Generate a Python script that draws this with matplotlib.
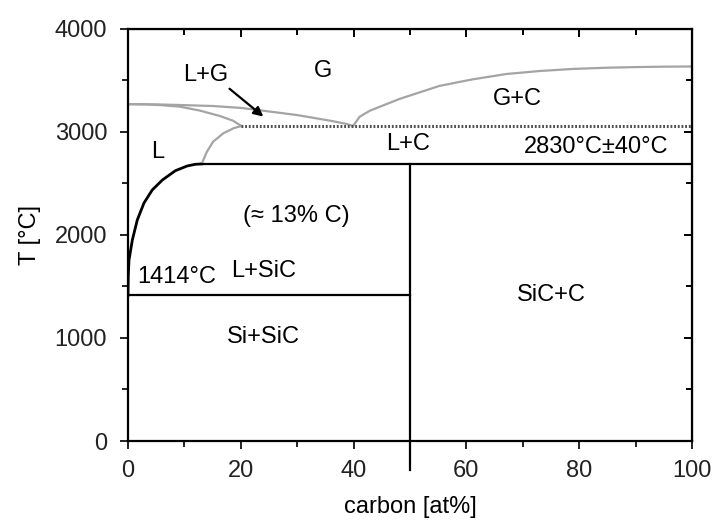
import matplotlib
matplotlib.use("Agg")
import matplotlib.pyplot as plt
from matplotlib.ticker import MultipleLocator

plt.rcParams['font.family'] = ['Liberation Sans', 'DejaVu Sans']

# Si-C phase diagram
# liquidus of Si-rich melt (L / L+SiC), black
liq_x = [0, 0.05, 0.18, 0.77, 1.65, 2.84, 4.3, 6.1, 8.4, 10.5, 11.9, 13.0]
liq_y = [1414, 1600, 1757, 1951, 2146, 2311, 2437, 2534, 2624, 2670, 2686, 2690]

# gray boundaries
lg_upper_x = [0, 5, 9.2, 15.1, 20.0, 23.9, 29.9, 35.8, 38.8, 39.9]
lg_upper_y = [3270, 3268, 3262, 3252, 3234, 3207, 3165, 3110, 3078, 3058]
lg_lower_x = [0, 3, 6, 9.2, 12.8, 16.3, 18.6, 20.1]
lg_lower_y = [3270, 3268, 3260, 3246, 3207, 3155, 3110, 3058]
lc_x = [13.1, 13.3, 14.0, 15.1, 16.9, 18.7, 20.1]
lc_y = [2690, 2720, 2809, 2906, 2987, 3036, 3058]
gc_x = [39.9, 41.1, 42.9, 44.7, 48.1, 55.2, 61, 67.1, 73, 78.9, 85, 90, 95, 100]
gc_y = [3058, 3149, 3207, 3246, 3320, 3447, 3510, 3563, 3592, 3612, 3624, 3630, 3634, 3636]

# horizontal lines
solidus_t = 1414
peritectic_t = 2690
eutectic_t = 3058
sic_x = 50

xticks = [0, 20, 40, 60, 80, 100]
yticks = [0, 1000, 2000, 3000, 4000]

fig = plt.figure(figsize=(7.13, 5.25), dpi=100)
ax = fig.add_axes([0.1795, 0.16, 0.791, 0.7848])

gray = '#a4a4a4'
ax.plot(liq_x, liq_y, color='black', lw=2.0)
ax.plot(lg_upper_x, lg_upper_y, color=gray, lw=1.6)
ax.plot(lg_lower_x, lg_lower_y, color=gray, lw=1.6)
ax.plot(lc_x, lc_y, color=gray, lw=1.6)
ax.plot(gc_x, gc_y, color=gray, lw=1.6)

ax.plot([0, sic_x], [solidus_t, solidus_t], color='black', lw=1.6)
ax.plot([liq_x[-1], 100], [peritectic_t, peritectic_t], color='black', lw=1.6)
ax.plot([20.1, 100], [eutectic_t, eutectic_t], color='#505050', lw=2.2,
        linestyle=(0, (0.6, 0.6)))
ax.plot([sic_x, sic_x], [-280, peritectic_t], color='black', lw=1.6, clip_on=False)

fs = 17
ax.text(34.5, 3590, 'G', fontsize=fs, ha='center', va='center')
ax.text(13.8, 3555, 'L+G', fontsize=fs, ha='center', va='center')
ax.annotate('', xy=(24.0, 3150), xytext=(18.0, 3420),
            arrowprops=dict(arrowstyle='-|>', color='black', lw=1.6,
                            mutation_scale=14, shrinkA=0, shrinkB=0))
ax.text(69, 3320, 'G+C', fontsize=fs, ha='center', va='center')
ax.text(49.6, 2880, 'L+C', fontsize=fs, ha='center', va='center')
ax.text(83, 2850, '2830°C±40°C', fontsize=fs, ha='center', va='center')
ax.text(5.2, 2810, 'L', fontsize=fs, ha='center', va='center')
ax.text(29.8, 2185, '(≈ 13% C)', fontsize=fs, ha='center', va='center')
ax.text(24, 1650, 'L+SiC', fontsize=fs, ha='center', va='center')
ax.text(8.7, 1590, '1414°C', fontsize=fs, ha='center', va='center')
ax.text(24, 1010, 'Si+SiC', fontsize=fs, ha='center', va='center')
ax.text(75, 1415, 'SiC+C', fontsize=fs, ha='center', va='center')

ax.set_xlim(0, 100)
ax.set_ylim(0, 4000)
ax.set_xticks(xticks)
ax.set_yticks(yticks)
ax.xaxis.set_minor_locator(MultipleLocator(10))
ax.yaxis.set_minor_locator(MultipleLocator(500))
ax.tick_params(which='both', direction='out', labelsize=fs, width=1.4, colors='#222222')
ax.tick_params(which='major', length=6)
ax.tick_params(which='minor', length=4)
ax.tick_params(axis='y', pad=9)
ax.tick_params(axis='x', pad=8)
for s in ax.spines.values():
    s.set_linewidth(1.6)

top = ax.secondary_xaxis('top')
top.set_xticks(xticks)
top.xaxis.set_minor_locator(MultipleLocator(10))
top.tick_params(which='both', direction='in', labeltop=False, width=1.4)
top.tick_params(which='major', length=6)
top.tick_params(which='minor', length=4)
right = ax.secondary_yaxis('right')
right.set_yticks(yticks)
right.yaxis.set_minor_locator(MultipleLocator(500))
right.tick_params(which='both', direction='in', labelright=False, width=1.4)
right.tick_params(which='major', length=6)
right.tick_params(which='minor', length=4)

ax.set_xlabel('carbon [at%]', fontsize=fs, labelpad=10)
ax.set_ylabel('T [°C]', fontsize=fs, labelpad=10)

fig.savefig('out.png', dpi=100)
